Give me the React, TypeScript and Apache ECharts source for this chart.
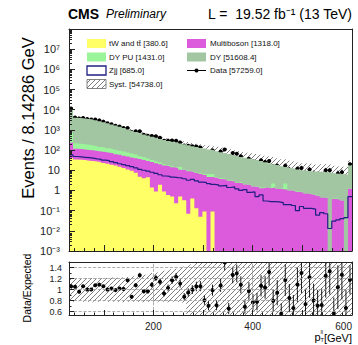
import React, { useEffect, useRef } from 'react';
import * as echarts from 'echarts';

const FONT = '"Liberation Sans", Arial, Helvetica, sans-serif';
const X_MIN = 30;
const X_MAX = 600;
const BIN_WIDTH = 8.142857;
const N_BINS = 70;

// per-bin yields (70 bins of 8.14286 GeV from 30 to 600 GeV)
const tW = [
  40, 34, 33, 32, 30, 29, 27, 25, 23, 21,
  19, 17, 15, 13, 11, 9.5, 7.5, 4.8, 4, 4.5,
  1.4, 0.9, 1.9, 0.9, 0.6, 0.5, 0.23, 0.5, 0.33, 0.07,
  0.4, 0.13, 0.05, 0.09, 0, 0.09, 0, 0, 0, 0,
  0, 0, 0, 0, 0, 0, 0, 0, 0, 0,
  0, 0, 0, 0, 0, 0, 0, 0, 0, 0,
  0, 0, 0, 0, 0, 0, 0, 0, 0, 0,
];
const multiboson = [
  190, 82, 79, 75, 72, 68, 64, 60, 57, 53,
  50, 46, 43, 40, 37, 34, 32, 31.2, 28, 24.5,
  24.6, 21.1, 18.1, 16.1, 15.4, 13.5, 12.8, 10, 10.2, 8.9,
  7.9, 7.1, 6.55, 5.7, 4.6, 4.6, 4.3, 3.7, 3.5, 3.0,
  2.8, 2.4, 2.3, 1.95, 1.85, 1.55, 1.5, 1.3, 1.4, 1.3,
  1.4, 1.2, 1.15, 1.1, 1.0, 0.95, 0.85, 0.8, 0.7, 0.65,
  0.6, 0.55, 0.45, 0.42, 0, 0.38, 0.36, 0.32, 0, 1.2,
];
const dyPU = [
  500, 105, 95, 85, 80, 74, 67, 58, 54, 48,
  44, 40, 36, 33, 28, 25, 21, 14, 12, 9,
  6, 6, 4, 3, 2, 2, 1.5, 4.5, 1.0, 0.8,
  0.7, 0.6, 0.5, 0.5, 2.0, 1.7, 0.4, 0.3, 0.3, 0.25,
  0.2, 0.2, 0.15, 0.15, 0.15, 0.1, 0.1, 0.1, 0.05, 0.05,
  0.8, 0.05, 0.05, 1.1, 0.05, 0.05, 0.05, 0.04, 0.04, 0.03,
  0.03, 0.03, 0.02, 0.02, 0, 0.02, 0.02, 0.02, 0, 0.1,
];
const dy = [
  10170, 3729, 3643, 3508, 3318, 3109, 2842, 2577, 2296, 1998,
  1747, 1537, 1336, 1144, 984, 831.5, 729.5, 630, 556, 487,
  428, 377, 331, 295, 267, 242, 220.5, 197, 182.5, 165.2,
  146, 133.2, 120.9, 108.7, 99.4, 91.6, 83.3, 75, 67.2, 60.75,
  54, 48.4, 43.55, 39.9, 36, 33.35, 30.4, 27.6, 23.55, 20.65,
  17.8, 16.75, 14.8, 12.3, 11.95, 11, 10.1, 9.16, 8.76, 8.32,
  8.07, 7.92, 7.83, 7.56, 7.5, 6.6, 6.32, 5.96, 6, 15.7,
];
const zjj = [
  58, 48, 46, 44, 42, 40, 37, 35, 32, 30,
  27, 24, 21, 19, 17, 15, 13, 11, 10, 9,
  8, 7, 6, 5.2, 5.0, 4.6, 4.3, 4.2, 3.8, 3.2,
  3.5, 3.0, 2.6, 2.5, 2.2, 2.0, 1.9, 1.7, 1.8, 1.4,
  1.5, 1.2, 1.0, 1.1, 0.8, 0.85, 0.5, 0.6, 0.3, 0.28,
  0.28, 0.27, 0.25, 0.2, 0.2, 0.18, 0.1, 0.16, 0.13, 0.13,
  0.12, 0.06, 0.08, 0.07, 0.013, 0.03, 0.035, 0.04, 0.045, 0.5,
];
const dataCounts = [
  11550, 4150, 3700, 3920, 3500, 3280, 3240, 2965, 2575, 2120,
  1897, 1624, 1459, 1242, 1240, 783, 853, 857, 582, 509,
  501, 490, 405, 293, 294, 302, 289, 235, 169, 166,
  155, 149, 136, 93, 75, 97, 63, 85, 106, 42,
  72, 66, 50, 29, 37, 27, 25, 31, 26, 29,
  16, 17, 9, 17, 11, 8, 12, 13, 7, 11,
  7, 6, 6, 10, 10, 4, 7, 8, 4, 20,
];
// relative edges of the systematic band (fraction of the expected total)
const systUpRel = [
  1.21, 1.21, 1.21, 1.2, 1.21, 1.21, 1.2, 1.21, 1.21, 1.21,
  1.22, 1.21, 1.22, 1.22, 1.23, 1.24, 1.25, 1.26, 1.27, 1.28,
  1.3, 1.31, 1.32, 1.34, 1.35, 1.37, 1.38, 1.4, 1.42, 1.44,
  1.46, 1.48, 1.5, 1.52, 1.55, 1.6, 1.65, 1.7, 1.75, 1.8,
  1.8, 1.85, 1.9, 1.9, 1.95, 2.0, 2.0, 2.05, 2.1, 2.2,
  2.3, 2.2, 2.2, 2.4, 2.3, 2.3, 2.2, 2.2, 2.3, 2.4,
  2.2, 2.3, 2.4, 2.5, 2.6, 2.4, 2.3, 2.4, 2.6, 1.8,
];
const systDownRel = [
  0.78, 0.78, 0.79, 0.78, 0.78, 0.77, 0.78, 0.78, 0.79, 0.78,
  0.78, 0.78, 0.78, 0.77, 0.78, 0.78, 0.78, 0.78, 0.77, 0.78,
  0.78, 0.77, 0.78, 0.78, 0.77, 0.78, 0.78, 0.77, 0.76, 0.5,
  0.48, 0.46, 0.45, 0.44, 0.42, 0.4, 0.38, 0.36, 0.35, 0.33,
  0.32, 0.3, 0.3, 0.28, 0.27, 0.26, 0.25, 0.24, 0.22, 0,
  0, 0, 0.2, 0, 0, 0, 0.18, 0.15, 0.15, 0,
  0.15, 0.12, 0, 0, 0, 0.1, 0.1, 0.1, 0, 0.5,
];

const yMainTicks = [1e-3, 1e-2, 1e-1, 1, 10, 100, 1e3, 1e4, 1e5, 1e6, 1e7];
const ratioTicks = [0.6, 0.8, 1, 1.2, 1.4];
const ratioMinorTicks = [0.7, 0.9, 1.1, 1.3];
const xMajorTicks = [100, 200, 300, 400, 500, 600];
const xLabelTicks = [200, 400, 600];

const COLORS = {
  tW: '#ffff66',
  mb: '#dc5adc',
  dyPU: '#9af59a',
  dy: '#a2c5a2',
  zjj: '#1f1f82',
};

const SUP: Record<string, string> = {
  '-': '\u207b', '0': '\u2070', '1': '\u00b9', '2': '\u00b2', '3': '\u00b3',
  '4': '\u2074', '5': '\u2075', '6': '\u2076', '7': '\u2077', '8': '\u2078', '9': '\u2079',
};
function logLabel(v: number) {
  const e = Math.round(Math.log10(v));
  if (e === 0) return '1';
  if (e === 1) return '10';
  return '10' + String(e).split('').map((c) => SUP[c]).join('');
}

function makeHatch(color: string) {
  const s = 5;
  const c = document.createElement('canvas');
  c.width = s;
  c.height = s;
  const g = c.getContext('2d')!;
  g.strokeStyle = color;
  g.lineWidth = 0.8;
  g.beginPath();
  g.moveTo(0, s); g.lineTo(s, 0);
  g.moveTo(-1, 1); g.lineTo(1, -1);
  g.moveTo(s - 1, s + 1); g.lineTo(s + 1, s - 1);
  g.stroke();
  return { image: c, repeat: 'repeat', imageWidth: s, imageHeight: s } as any;
}

export default function App() {
  const ref = useRef<HTMLDivElement>(null);
  useEffect(() => {
    if (!ref.current) return;
    const chart = echarts.init(ref.current, undefined, { renderer: 'svg' });
    const hatch = makeHatch('#5a5a5a');
    const hatchLegend = makeHatch('#5a5a5a');

    const edges = Array.from({ length: N_BINS + 1 }, (_, i) => X_MIN + i * BIN_WIDTH);
    const FLOOR = 1e-6;
    const cumTW = tW.slice();
    const cumMB = cumTW.map((v, i) => v + multiboson[i]);
    const cumPU = cumMB.map((v, i) => v + dyPU[i]);
    const total = cumPU.map((v, i) => v + dy[i]);

    const stepPoints = (vals: number[]) => {
      const pts: number[][] = [];
      vals.forEach((v, i) => {
        const y = v > 0 ? v : FLOOR;
        pts.push([edges[i], y], [edges[i + 1], y]);
      });
      return pts;
    };
    const fillSeries = (vals: number[], color: string) => ({
      type: 'line',
      xAxisIndex: 0,
      yAxisIndex: 0,
      data: stepPoints(vals),
      symbol: 'none',
      showSymbol: false,
      silent: true,
      clip: true,
      lineStyle: { width: 0, color },
      areaStyle: { color, opacity: 1, origin: 'start' },
    });

    const bandMain = total.map((t, i) => [
      edges[i], edges[i + 1],
      Math.max(t * systDownRel[i], 1e-3), t * systUpRel[i],
    ]);
    const bandRatio = total.map((_, i) => [edges[i], edges[i + 1], systDownRel[i], systUpRel[i]]);
    const dataItems = dataCounts.map((d, i) => [edges[i], edges[i + 1], d, Math.sqrt(d)]);
    const ratioItems = dataCounts.map((d, i) => [
      (edges[i] + edges[i + 1]) / 2, d / total[i], Math.sqrt(d) / total[i],
    ]);

    const xMinor: number[] = [];
    for (let v = 40; v < 600; v += 20) if (v % 100 !== 0) xMinor.push(v);
    const yMinor: number[] = [];
    for (let k = -3; k <= 7; k++) for (let m = 2; m <= 9; m++) yMinor.push(m * Math.pow(10, k));

    const bandRender = (params: any, api: any) => {
      const a = api.coord([api.value(0), api.value(3)]);
      const b = api.coord([api.value(1), api.value(2)]);
      return {
        type: 'rect',
        shape: { x: a[0], y: a[1], width: b[0] - a[0], height: b[1] - a[1] },
        style: { fill: hatch, lineWidth: 0 },
      };
    };

    const gridMain = { left: 69, top: 29, width: 283, height: 222, outerBoundsMode: 'none', containLabel: false, show: false };
    const gridRatio = { left: 69, top: 262, width: 283, height: 53, outerBoundsMode: 'none', containLabel: false, show: false };
    const axisLineStyle = { color: '#222', width: 1 };

    const xBase = (grid: number) => ({
      gridIndex: grid, type: 'value', min: X_MIN, max: X_MAX, z: 10,
      splitLine: { show: false },
    });
    const legendX1 = 87, legendX2 = 187, boxW = 19, boxH = 9;
    const rowY = [43.5, 57, 70.5, 84];
    const legendItems: any[] = [];
    const addBox = (x: number, row: number, style: any) => legendItems.push({
      type: 'rect', shape: { x, y: rowY[row] - boxH / 2, width: boxW, height: boxH }, style,
    });
    const addText = (x: number, row: number, text: string) => legendItems.push({
      type: 'text', x, y: rowY[row],
      style: { text, fontSize: 8, fontFamily: FONT, fill: '#111', align: 'left', verticalAlign: 'middle' },
    });
    addBox(legendX1, 0, { fill: COLORS.tW, lineWidth: 0 });
    addText(legendX1 + 22, 0, 'tW and tt\u0304 [380.6]');
    addBox(legendX2, 0, { fill: COLORS.mb, lineWidth: 0 });
    addText(legendX2 + 23, 0, 'Multiboson [1318.0]');
    addBox(legendX1, 1, { fill: COLORS.dyPU, lineWidth: 0 });
    addText(legendX1 + 22, 1, 'DY PU [1431.0]');
    addBox(legendX2, 1, { fill: COLORS.dy, lineWidth: 0 });
    addText(legendX2 + 23, 1, 'DY [51608.4]');
    addBox(legendX1, 2, { fill: '#fff', stroke: COLORS.zjj, lineWidth: 1.3 });
    addText(legendX1 + 22, 2, 'Zjj [685.0]');
    legendItems.push({ type: 'line', shape: { x1: legendX2, y1: rowY[2], x2: legendX2 + boxW, y2: rowY[2] }, style: { stroke: '#000', lineWidth: 1 } });
    legendItems.push({ type: 'circle', shape: { cx: legendX2 + boxW / 2, cy: rowY[2], r: 2 }, style: { fill: '#000' } });
    addText(legendX2 + 23, 2, 'Data [57259.0]');
    addBox(legendX1, 3, { fill: hatchLegend, stroke: '#666', lineWidth: 0.8 });
    addText(legendX1 + 22, 3, 'Syst. [54738.0]');

    const option: any = {
      animation: false,
      backgroundColor: '#fff',
      textStyle: { fontFamily: FONT },
      grid: [gridMain, gridRatio],
      xAxis: [
        { ...xBase(0), position: 'bottom', axisLine: { show: true, onZero: false, lineStyle: axisLineStyle },
          axisTick: { show: true, inside: true, length: 6, customValues: xMajorTicks, lineStyle: axisLineStyle },
          axisLabel: { show: false } },
        { ...xBase(0), position: 'bottom', axisLine: { show: false, onZero: false },
          axisTick: { show: true, inside: true, length: 3, customValues: xMinor, lineStyle: axisLineStyle },
          axisLabel: { show: false } },
        { ...xBase(0), position: 'top', axisLine: { show: true, onZero: false, lineStyle: axisLineStyle },
          axisTick: { show: false }, axisLabel: { show: false } },
        { ...xBase(1), position: 'bottom', axisLine: { show: true, onZero: false, lineStyle: axisLineStyle },
          axisTick: { show: true, inside: true, length: 5, customValues: xMajorTicks, lineStyle: axisLineStyle },
          axisLabel: { show: true, customValues: xLabelTicks, fontSize: 10, color: '#222', fontFamily: FONT, margin: 6, alignMaxLabel: 'right' } },
        { ...xBase(1), position: 'bottom', axisLine: { show: false, onZero: false },
          axisTick: { show: true, inside: true, length: 2.5, customValues: xMinor, lineStyle: axisLineStyle },
          axisLabel: { show: false } },
        { ...xBase(1), position: 'top', axisLine: { show: true, onZero: false, lineStyle: axisLineStyle },
          axisTick: { show: false }, axisLabel: { show: false } },
      ],
      yAxis: [
        { gridIndex: 0, type: 'log', logBase: 10, min: 1e-3, max: 1e8, position: 'left', z: 10,
          axisLine: { show: true, onZero: false, lineStyle: axisLineStyle },
          axisTick: { show: true, inside: true, length: 6, customValues: yMainTicks, lineStyle: axisLineStyle },
          axisLabel: { show: true, customValues: yMainTicks, formatter: (v: number) => logLabel(v), fontSize: 11, color: '#222', fontFamily: FONT, margin: 9 },
          splitLine: { show: false } },
        { gridIndex: 0, type: 'log', logBase: 10, min: 1e-3, max: 1e8, position: 'left', z: 10,
          axisLine: { show: false, onZero: false },
          axisTick: { show: true, inside: true, length: 3, customValues: yMinor, lineStyle: axisLineStyle },
          axisLabel: { show: false }, splitLine: { show: false } },
        { gridIndex: 0, type: 'log', logBase: 10, min: 1e-3, max: 1e8, position: 'right', z: 10,
          axisLine: { show: true, onZero: false, lineStyle: axisLineStyle },
          axisTick: { show: false }, axisLabel: { show: false }, splitLine: { show: false } },
        { gridIndex: 1, type: 'value', min: 0.54, max: 1.5, position: 'left', z: 10,
          axisLine: { show: true, onZero: false, lineStyle: axisLineStyle },
          axisTick: { show: true, inside: true, length: 5, customValues: ratioTicks, lineStyle: axisLineStyle },
          axisLabel: { show: true, customValues: ratioTicks, formatter: (v: number) => String(Math.round(v * 10) / 10), fontSize: 9, color: '#222', fontFamily: FONT, margin: 7 },
          splitLine: { show: false } },
        { gridIndex: 1, type: 'value', min: 0.54, max: 1.5, position: 'left', z: 10,
          axisLine: { show: false, onZero: false },
          axisTick: { show: true, inside: true, length: 2.5, customValues: ratioMinorTicks, lineStyle: axisLineStyle },
          axisLabel: { show: false }, splitLine: { show: false } },
        { gridIndex: 1, type: 'value', min: 0.54, max: 1.5, position: 'right', z: 10,
          axisLine: { show: true, onZero: false, lineStyle: axisLineStyle },
          axisTick: { show: false }, axisLabel: { show: false }, splitLine: { show: false } },
      ],
      series: [
        fillSeries(total, COLORS.dy),
        fillSeries(cumPU, COLORS.dyPU),
        fillSeries(cumMB, COLORS.mb),
        fillSeries(cumTW, COLORS.tW),
        {
          type: 'line', xAxisIndex: 0, yAxisIndex: 0, data: stepPoints(zjj), symbol: 'none', showSymbol: false,
          silent: true, clip: true, lineStyle: { width: 1.2, color: COLORS.zjj },
        },
        {
          type: 'custom', xAxisIndex: 0, yAxisIndex: 0, data: bandMain, clip: true, silent: true,
          encode: { x: [0, 1], y: [2, 3] }, renderItem: bandRender,
        },
        {
          type: 'custom', xAxisIndex: 0, yAxisIndex: 0, data: dataItems, clip: true, silent: true,
          encode: { x: [0, 1], y: 2 },
          renderItem: (params: any, api: any) => {
            const x0 = api.value(0), x1 = api.value(1), y = api.value(2), e = api.value(3);
            if (!(y > 0)) return null;
            const xc = (x0 + x1) / 2;
            const pL = api.coord([x0, y]);
            const pR = api.coord([x1, y]);
            const pT = api.coord([xc, y + e]);
            const pB = api.coord([xc, Math.max(y - e, 1e-3)]);
            return {
              type: 'group',
              children: [
                { type: 'line', shape: { x1: pL[0], y1: pL[1], x2: pR[0], y2: pR[1] }, style: { stroke: '#000', lineWidth: 0.9 } },
                { type: 'line', shape: { x1: pT[0], y1: pT[1], x2: pT[0], y2: pB[1] }, style: { stroke: '#000', lineWidth: 0.9 } },
                { type: 'circle', shape: { cx: pT[0], cy: pL[1], r: 2 }, style: { fill: '#000' } },
              ],
            };
          },
        },
        {
          type: 'custom', xAxisIndex: 3, yAxisIndex: 3, data: bandRatio, clip: true, silent: true,
          encode: { x: [0, 1], y: [2, 3] }, renderItem: bandRender,
        },
        {
          type: 'line', xAxisIndex: 3, yAxisIndex: 3, data: [[X_MIN, 1]], symbol: 'none', showSymbol: false,
          silent: true, lineStyle: { opacity: 0 },
          markLine: {
            silent: true, symbol: ['none', 'none'], label: { show: false }, animation: false,
            lineStyle: { type: 'dashed', color: '#9a9a9a', width: 0.8 },
            data: [...ratioTicks.map((v) => ({ yAxis: v })), ...[200, 400].map((v) => ({ xAxis: v }))],
          },
        },
        {
          type: 'custom', xAxisIndex: 3, yAxisIndex: 3, data: ratioItems, clip: true, silent: true,
          encode: { x: 0, y: 1 },
          renderItem: (params: any, api: any) => {
            const x = api.value(0), r = api.value(1), e = api.value(2);
            const pT = api.coord([x, r + e]);
            const pB = api.coord([x, r - e]);
            const pC = api.coord([x, r]);
            return {
              type: 'group',
              children: [
                { type: 'line', shape: { x1: pC[0], y1: pT[1], x2: pC[0], y2: pB[1] }, style: { stroke: '#000', lineWidth: 0.9 } },
                { type: 'circle', shape: { cx: pC[0], cy: pC[1], r: 2 }, style: { fill: '#000' } },
              ],
            };
          },
        },
      ],
      graphic: [
        { type: 'text', x: 68, y: 13.5, style: { text: 'CMS', fontSize: 14, fontWeight: 'bold', fontFamily: FONT, fill: '#000', align: 'left', verticalAlign: 'middle' } },
        { type: 'text', x: 106, y: 14, style: { text: 'Preliminary', fontSize: 12, fontStyle: 'italic', fontFamily: FONT, fill: '#000', align: 'left', verticalAlign: 'middle' } },
        { type: 'text', x: 352, y: 13.5, style: { text: 'L =  19.52 fb\u207b\u00b9 (13 TeV)', fontSize: 14, fontFamily: FONT, fill: '#000', align: 'right', verticalAlign: 'middle' } },
        { type: 'text', x: 27.5, y: 118, rotation: Math.PI / 2, style: { text: 'Events / 8.14286 GeV', fontSize: 16.5, fontFamily: FONT, fill: '#000', align: 'center', verticalAlign: 'middle' } },
        { type: 'text', x: 27, y: 288, rotation: Math.PI / 2, style: { text: 'Data/Expected', fontSize: 10.5, fontFamily: FONT, fill: '#000', align: 'center', verticalAlign: 'middle' } },
        { type: 'text', x: 314.5, y: 337, style: { text: 'p', fontSize: 11, fontFamily: FONT, fill: '#000', align: 'left', verticalAlign: 'middle' } },
        { type: 'text', x: 320.5, y: 340.3, style: { text: 'T', fontSize: 5.5, fontFamily: FONT, fill: '#000', align: 'left', verticalAlign: 'middle' } },
        { type: 'text', x: 320.5, y: 332.3, style: { text: 'll', fontSize: 5.5, fontFamily: FONT, fill: '#000', align: 'left', verticalAlign: 'middle' } },
        { type: 'text', x: 352, y: 337.5, style: { text: '[GeV]', fontSize: 11, fontFamily: FONT, fill: '#000', align: 'right', verticalAlign: 'middle' } },
        ...legendItems,
      ],
    };
    chart.setOption(option);
    return () => chart.dispose();
  }, []);
  return <div ref={ref} style={{ position: 'absolute', left: 0, top: 0, width: 358, height: 345 }} />;
}
